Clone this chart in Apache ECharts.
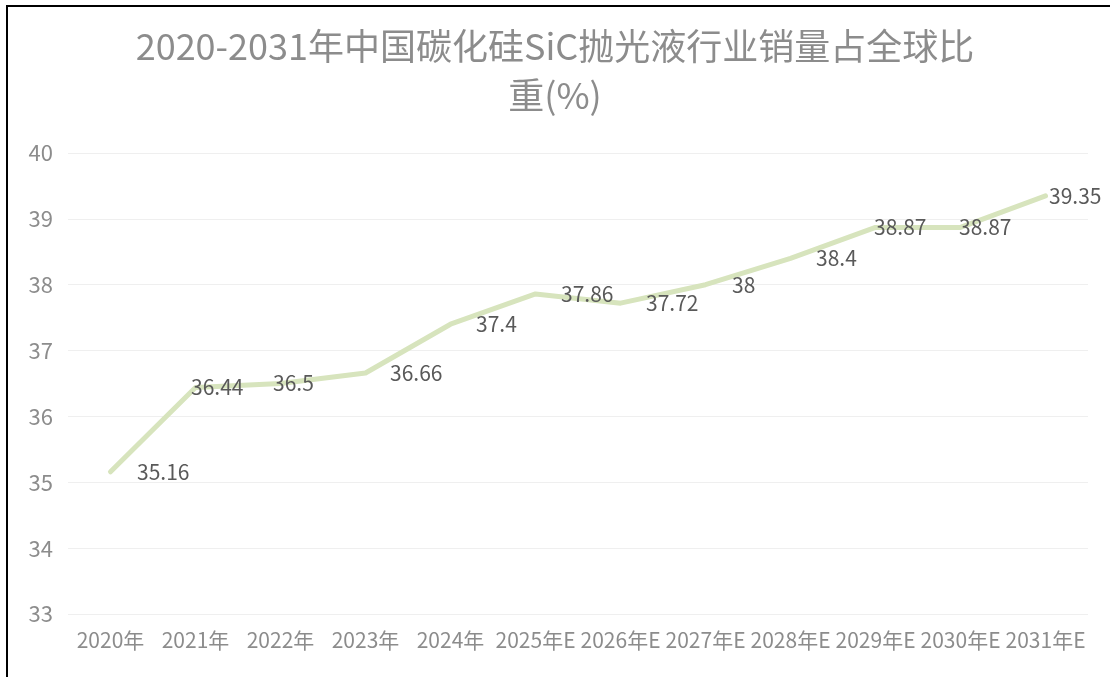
<!DOCTYPE html>
<html lang="zh">

<head>
  <meta charset="UTF-8">
  <title>碳化硅SiC抛光液销量占比</title>
  <style>
    * {
      margin: 0;
      padding: 0;
    }

    body {
      width: 1110px;
      height: 677px;
      overflow: hidden;
      background: #fff;
      position: relative;
    }

    .chart {
      width: 1110px;
      height: 677px;
    }

    /* black frame peeking in at top/left, like the screenshot */
    .frame {
      position: absolute;
      left: 6px;
      top: 5px;
      width: 1200px;
      height: 800px;
      border-left: 2px solid #000;
      border-top: 2px solid #000;
      pointer-events: none;
    }
  </style>
</head>

<body>
  <div class="chart"></div>
  <div class="frame"></div>

  <script src="https://cdn.jsdelivr.net/npm/echarts@6/dist/echarts.min.js"></script>
  <script>
    var years = ['2020年', '2021年', '2022年', '2023年', '2024年', '2025年E',
      '2026年E', '2027年E', '2028年E', '2029年E', '2030年E', '2031年E']
    var share = [35.16, 36.44, 36.5, 36.66, 37.4, 37.86, 37.72, 38, 38.4, 38.87, 38.87, 39.35]
    var yMin = 33
    var yMax = 40
    var yStep = 1

    // how far each value label sits right of its point (some were nudged in the original)
    var labelGap = [26, -5, -8, 24, 25, 25, 25, 26, 25, -2, -2, 3]

    var font = '"Noto Sans CJK SC", "Noto Sans", sans-serif'

    var points = share.map(function (v, i) {
      return {
        value: v,
        label: { offset: [labelGap[i], 0] }
      }
    })

    var myChart = echarts.init(document.querySelector('.chart'))

    var option = {
      animation: false,
      title: {
        text: '2020-2031年中国碳化硅SiC抛光液行业销量占全球比\n重(%)',
        left: 'center',
        top: 17,
        textStyle: {
          fontFamily: font,
          fontSize: 36,
          fontWeight: 'normal',
          color: '#8c8c8c',
          lineHeight: 49
        }
      },
      grid: {
        left: 68,
        right: 22,
        top: 153,
        bottom: 63
      },
      xAxis: {
        type: 'category',
        data: years,
        boundaryGap: true,
        axisLine: { show: false },
        axisTick: { show: false },
        axisLabel: {
          interval: 0,
          margin: 16,
          fontFamily: font,
          fontSize: 21,
          color: '#8c8c8c'
        }
      },
      yAxis: {
        type: 'value',
        min: yMin,
        max: yMax,
        interval: yStep,
        axisLine: { show: false },
        axisTick: { show: false },
        splitLine: {
          lineStyle: { color: '#efefef', width: 1 }
        },
        axisLabel: {
          margin: 15,
          fontFamily: font,
          fontSize: 22,
          color: '#8c8c8c'
        }
      },
      series: [{
        type: 'line',
        data: points,
        symbol: 'circle',
        symbolSize: 1,
        itemStyle: { color: 'rgba(0,0,0,0)' },
        lineStyle: {
          color: '#d7e4bd',
          width: 5,
          join: 'round',
          cap: 'round'
        },
        label: {
          show: true,
          position: 'right',
          distance: 0,
          fontFamily: font,
          fontSize: 21,
          color: '#595959'
        }
      }]
    }

    myChart.setOption(option)
  </script>
</body>

</html>
